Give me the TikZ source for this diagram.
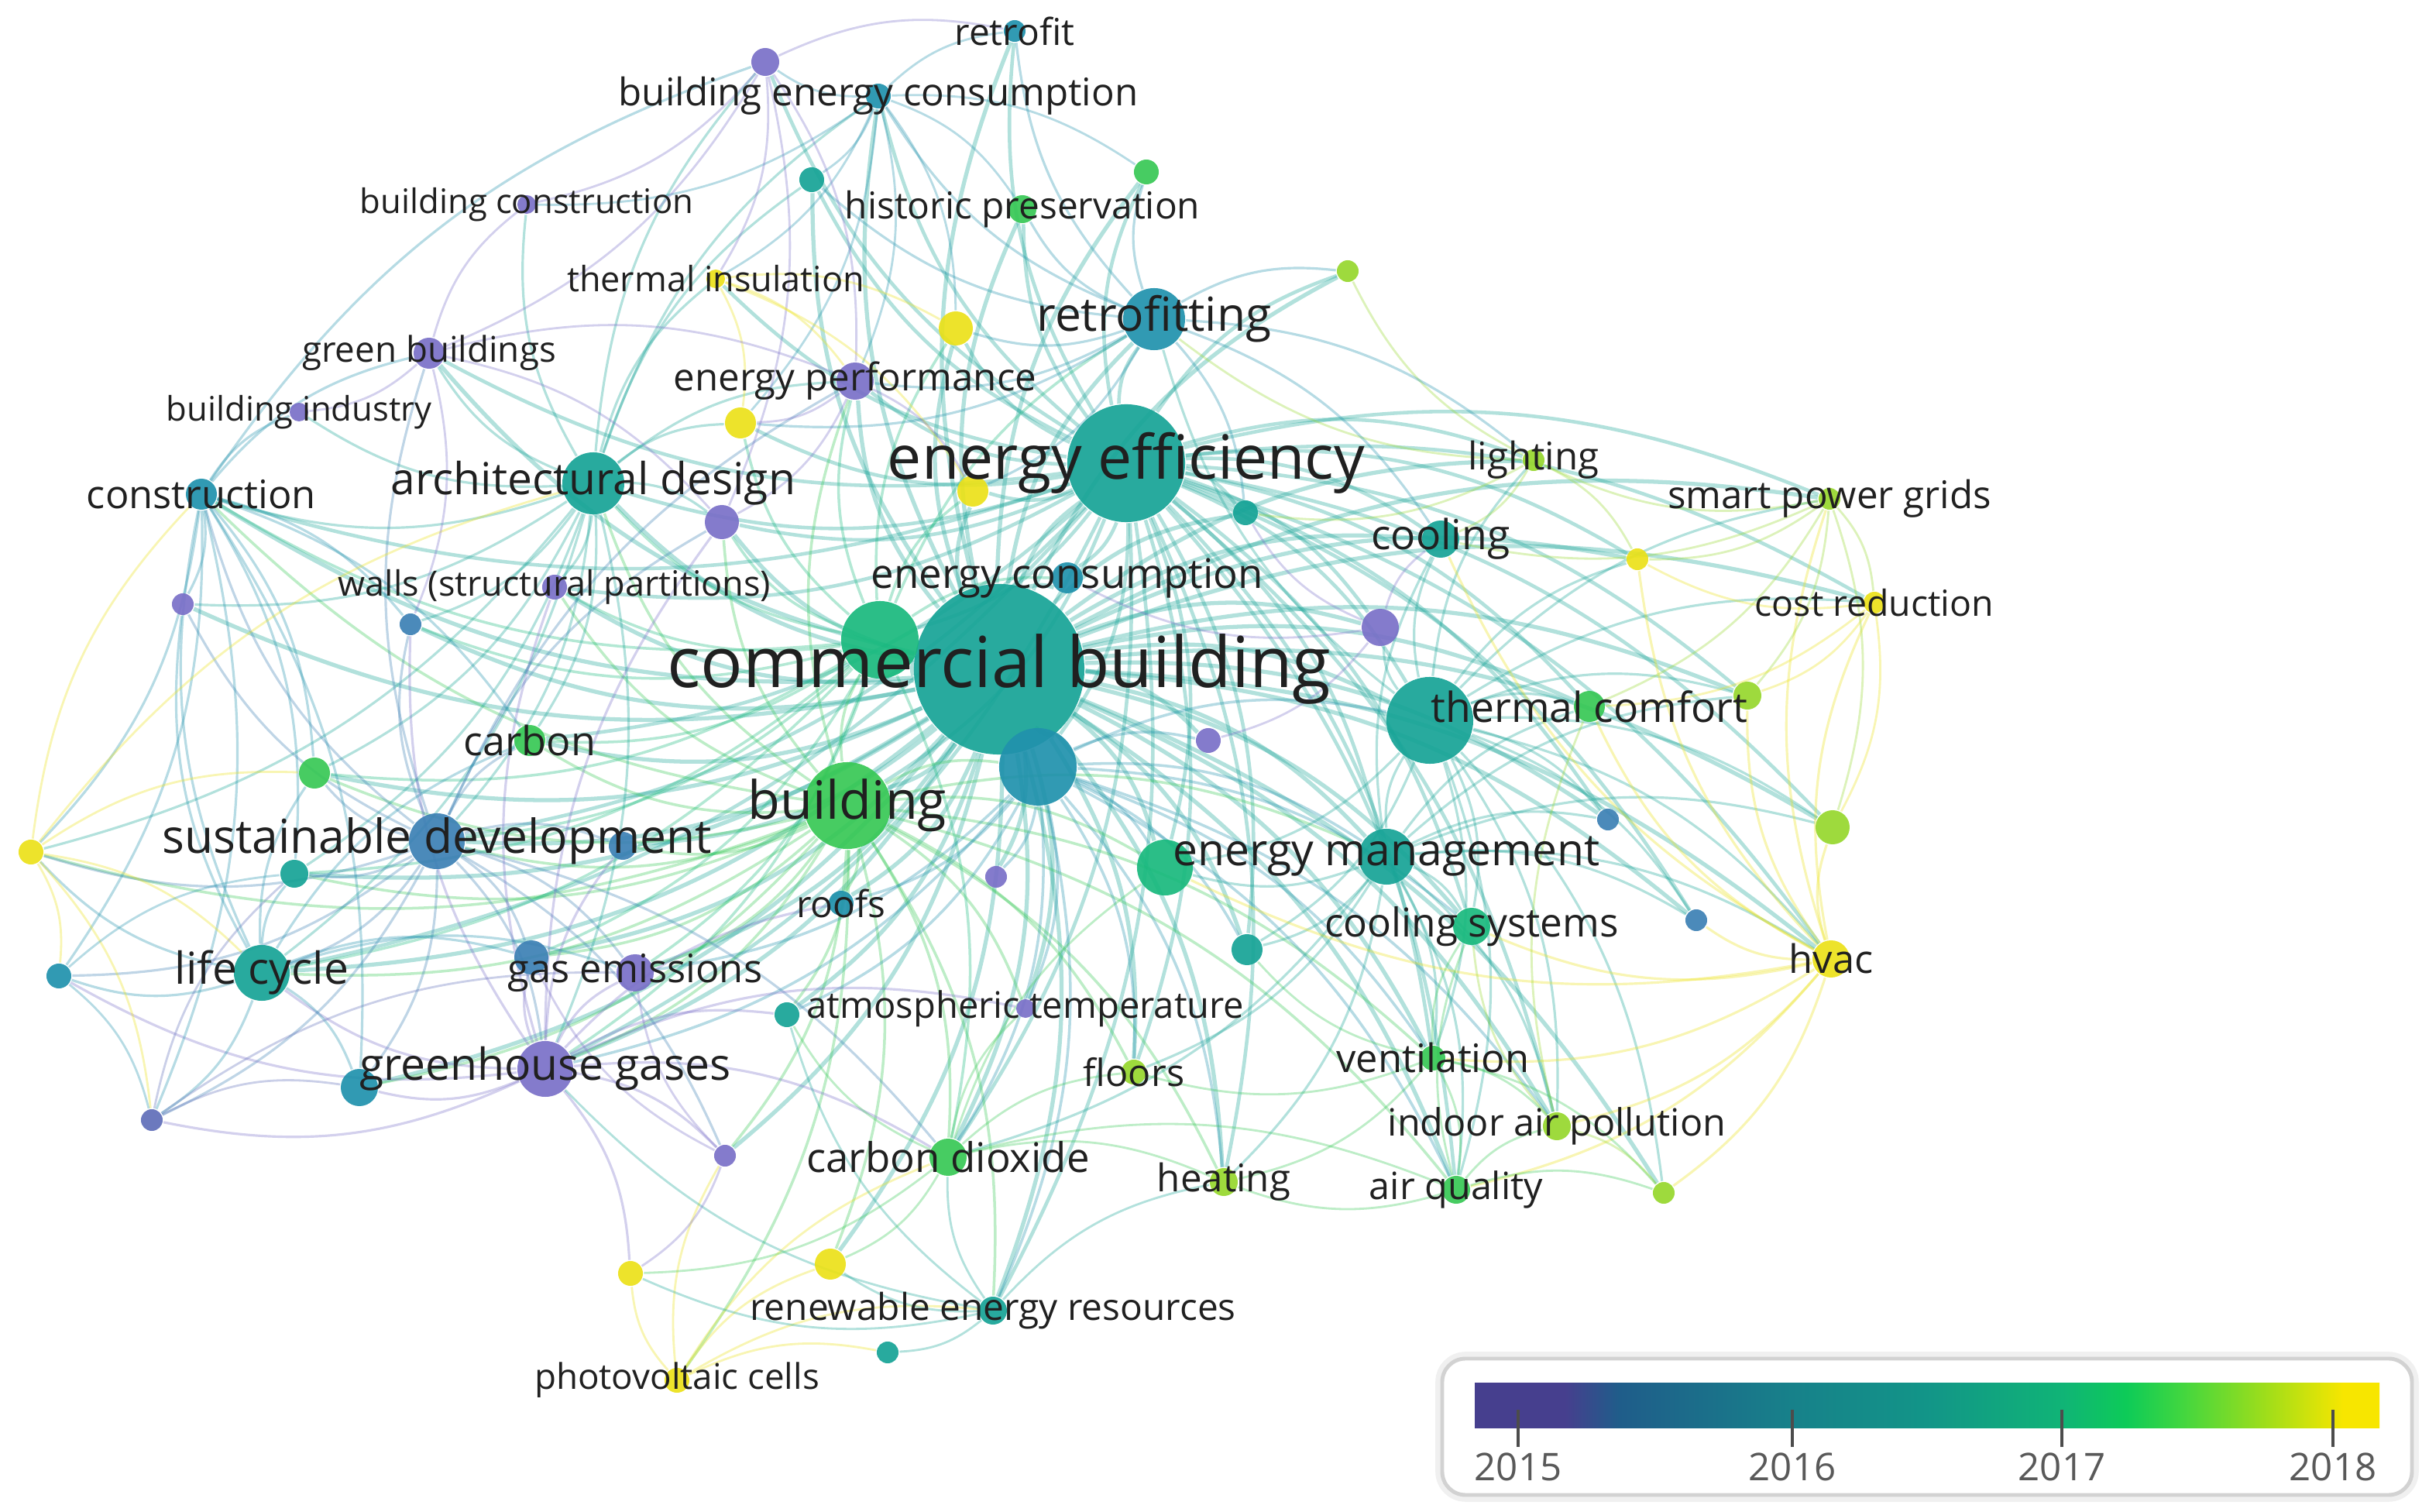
\documentclass[tikz,border=0pt]{standalone}
\usepackage{fontspec}
\setmainfont{Open Sans}
\usetikzlibrary{backgrounds}

\definecolor{vP}{RGB}{122,112,200}
\definecolor{vPB}{RGB}{95,110,185}
\definecolor{vB}{RGB}{60,128,180}
\definecolor{vBT}{RGB}{32,145,172}
\definecolor{vT}{RGB}{22,163,150}
\definecolor{vTG}{RGB}{25,185,125}
\definecolor{vG}{RGB}{55,200,85}
\definecolor{vL}{RGB}{150,215,45}
\definecolor{vY}{RGB}{235,225,25}
\definecolor{txt}{RGB}{32,32,32}
% colour bar stops
\definecolor{c0}{RGB}{70,63,142}
\definecolor{c1}{RGB}{31,93,138}
\definecolor{c2}{RGB}{23,129,138}
\definecolor{c3}{RGB}{18,149,136}
\definecolor{c4}{RGB}{16,180,118}
\definecolor{c5}{RGB}{13,203,88}
\definecolor{c6}{RGB}{64,214,64}
\definecolor{c7}{RGB}{165,222,24}
\definecolor{c8}{RGB}{247,230,0}
\pgfdeclarehorizontalshading{viridis}{100bp}{color(0bp)=(c0); color(25bp)=(c0); color(30bp)=(c0); color(33bp)=(c1); color(42.5bp)=(c2); color(50bp)=(c3); color(57.5bp)=(c4); color(61bp)=(c5); color(64bp)=(c6); color(69bp)=(c7); color(73bp)=(c8); color(100bp)=(c8)}

\begin{document}
\begin{tikzpicture}[x=0.01cm, y=-0.01cm,
  kw/.style 2 args={circle, fill=#2, fill opacity=0.92, minimum size=#1*0.02cm, inner sep=0pt},
  lbl/.style={font=\fontsize{#1}{#1}\selectfont, text=txt, inner sep=0pt},
  edge/.style={draw=#1, opacity=0.33}]
  \useasboundingbox (0,0) rectangle (1568,976);
  %
  % keywords: name/x/y/radius/colour
  \foreach \n/\x/\y/\rad/\c in {
    cb/645/432/55/vT, ee/727/299/38/vT, u38/923/465/28/vT, bd/547/520/28/vG,
    u12/568/413/25/vTG, u15/670/495/25/vBT, rtf/745/206/20/vBT, ad/383/312/20/vT,
    sd/282/543/18/vB, em/895/553/18/vT, u25/752/560/18/vTG, lc/169/628/18/vT,
    gg/352/690/18/vP, ep/552/246/12/vP, co/930/348/12/vT, cs/950/598/12/vTG,
    hv/1182/619/12/vY, ge/410/628/12/vP, cd/612/747/12/vG, u11/891/405/12/vP,
    u30/232/702/12/vBT, u5/617/212/11/vY, u8/466/337/11/vP, u24/1183/534/11/vL,
    u29/343/618/11/vB, gb/277/228/10/vP, con/130/319/10/vBT, ca/342/478/10/vG,
    tc/1026/456/10/vG, ec/689/373/10/vBT, u6/478/273/10/vY, u7/628/317/10/vY,
    u18/203/499/10/vG, u26/805/613/10/vT, u36/536/816/10/vY, u1/494/40/9/vP,
    hp/660/135/9/vG, u17/1128/449/9/vL, u20/190/564/9/vT, u21/402/546/9/vB,
    ht/790/763/9/vL, aq/940/768/9/vG, iap/1005/727/9/vL, rer/641/846/9/vT,
    bec/567/62/8/vBT, u2/524/116/8/vT, u3/740/111/8/vG, u9/804/331/8/vT,
    wsp/358/379/8/vP, u16/780/478/8/vP, rof/543/583/8/vBT, ve/925/683/8/vG,
    fl/732/692/8/vL, u19/20/550/8/vY, u28/38/630/8/vBT, u31/508/655/8/vT,
    u35/407/822/8/vY, pv/437/891/8/vY, rf/655/20/7/vBT, u4/870/175/7/vL,
    lt/990/297/7/vL, spg/1181/322/7/vL, u10/1057/361/7/vY, cr/1210/389/7/vY,
    u13/118/390/7/vP, u14/265/403/7/vB, u22/643/566/7/vP, u23/1038/529/7/vB,
    u27/1095/594/7/vB, u32/98/723/7/vPB, u33/468/746/7/vP, u34/1074/770/7/vL,
    u37/573/873/7/vT, bc/340/132/6/vP, ti/462/180/6/vY, bi/193/266/6/vP,
    at/662/651/6/vP}
    \node[kw={\rad}{\c}] (\n) at (\x,\y) {};
  %
  % links
  \begin{scope}[on background layer]
    \foreach \a/\c/\w/\lst in {
      cb/vT/0.75/{ee,bd,u12,u15,ad,rtf,em,u38,tc,co,sd,gg,lc,con,ca,ge,rof,cs,hv,ve,fl,cd,ht,aq,iap,rer,at,ep,hp,bec,ec,u5,u7,u8,u11,u16,u25,u26,spg,lt,cr,u17,u24,u9,wsp,u21,u31,u29,u2,rf,u18,u20,u30,u22,u23,u27,u36,u14,u13,gb,u3,u4,u10,u34,u33},
      ee/vT/0.65/{rtf,hp,bec,rf,u3,u4,lt,spg,co,u38,tc,em,cs,bd,u12,u15,ad,ep,u5,u6,u7,ec,u9,u10,u11,cr,sd,hv,ve,aq,gb,con,ca,u2,u17,u24,u25,u26,ht,fl,lc,gg,ti,u1,u8,wsp,iap,u23,u27,cd,rer},
      bd/vG/0.5/{ad,sd,gg,lc,ca,ge,rof,cd,rer,fl,u25,em,u12,u15,u29,u21,u36,pv,u18,u20,con,ep,u31,u33,ht,at,u30,u19,wsp,u8,ve,aq},
      u12/vTG/0.5/{ad,ep,ca,sd,ge,cd,gg,ec,u8,wsp,u6,lc,con,u14,u18,u20,u29,u5,u7,rtf},
      u15/vBT/0.5/{em,u25,ht,cd,rer,at,rof,fl,u26,u38,cs,ve,aq,u16,u22,gg,ge,u31,iap},
      ad/vT/0.45/{con,gb,bi,bc,ep,u6,u8,wsp,ca,sd,u14,u13,ti,lc,u1,u2,bec,u18,gg,u20,u19},
      sd/vB/0.45/{lc,gg,con,ge,u29,u20,u30,u18,u14,u28,u19,u32,u21,ca,gb,u13,u8,ep,u33,cd},
      gg/vP/0.45/{lc,ge,u29,u30,u32,u33,cd,u28,u35,u21,wsp,u31,rof,at,u8,u14},
      lc/vBT/0.45/{u28,u30,u32,u19,u20,con,u13,u18,ge,u29,ca},
      con/vBT/0.45/{gb,bi,u13,u19,u14,u28,u32,u1,u20,u18,u30,ca},
      em/vT/0.45/{u38,cs,co,tc,u26,ve,aq,ht,hv,u27,u23,iap,u25,u24,fl,u17,cd},
      u38/vT/0.45/{co,tc,cs,u17,u24,hv,ve,aq,iap,u23,cr,lt,spg,u10,u11,u27,rtf,u25,u26,u34},
      hv/vY/0.45/{u24,u17,iap,aq,cr,spg,ve,u34,u27,u10,tc,cs,co,u25},
      spg/vL/0.4/{cr,lt,u10,u17,u24,co,tc},
      cr/vY/0.4/{u17,u24,u10,tc},
      lt/vL/0.4/{u10,u4,co,rtf,u9},
      rtf/vBT/0.45/{hp,rf,bec,u3,u4,u5,u9,lt,co,u2,ep,u7,u6},
      bec/vBT/0.4/{rf,u1,u2,hp,ti,bc,u5,ep,u6,u3},
      u1/vP/0.4/{rf,bc,ti,ep,u8,gb},
      pv/vY/0.4/{u35,u36,rer,u37,cd,u33},
      rer/vT/0.4/{u37,cd,u36,ht,u35,u31,gg},
      cd/vG/0.4/{u36,ht,fl,aq,at,u31,u35,u25},
      ve/vG/0.4/{aq,iap,u34,fl,ht,cs,u26},
      aq/vG/0.4/{iap,u34,ht,cs},
      iap/vL/0.4/{u34,tc,cs},
      u19/vY/0.4/{u28,u18,u32,con,ad,lc},
      u28/vBT/0.4/{u32,u20},
      u32/vPB/0.4/{u30,u20,ge},
      u33/vP/0.4/{ge,u35,u29},
      ti/vY/0.4/{u6,u5,ep,u7},
      u11/vP/0.4/{co,ec,u16,u9},
      gb/vP/0.4/{bi,bc,u8,ep,u14},
      ep/vP/0.4/{u8,u6,u7}}{
      \foreach \b in \lst
        \draw[edge=\c, line width=\w pt] (\a) to[bend left=18] (\b);
    }
  \end{scope}
  %
  % labels: name/size/text
  \foreach \n/\s/\t in {
    cb/12.9/commercial building, ee/11.2/energy efficiency, bd/9.7/building,
    rtf/8.6/retrofitting, sd/8.6/sustainable development, ad/8.1/architectural design,
    em/8.1/energy management, gg/8.1/greenhouse gases, lc/8.1/life cycle,
    ec/7.5/energy consumption, co/7.6/cooling, cd/7.5/carbon dioxide,
    tc/7.6/thermal comfort, ca/7.4/carbon, cs/7.3/cooling systems,
    hv/7.2/hvac, ve/7.2/ventilation, ge/7.2/gas emissions, con/7.2/construction,
    bec/7/building energy consumption, rf/6.8/retrofit, hp/6.8/historic preservation,
    wsp/6.4/walls (structural partitions), at/6.7/atmospheric temperature,
    pv/6.5/photovoltaic cells, rer/6.8/renewable energy resources,
    ti/6.4/thermal insulation, bc/6.2/building construction, bi/6.2/building industry,
    gb/6.5/green buildings, ep/7/energy performance, lt/7/lighting,
    spg/7/smart power grids, cr/6.6/cost reduction, fl/6.9/floors, ht/7/heating,
    aq/6.9/air quality, iap/6.9/indoor air pollution, rof/6.8/roofs}
    \node[lbl=\s] (\n-l) at (\n) {\t};
  %
  % overlay colour bar
  \draw[gray!12, line width=2.5pt, rounded corners=0.15cm] (931,877) rectangle (1557,965);
  \draw[gray!35, line width=0.7pt, rounded corners=0.15cm, fill=white] (931,877) rectangle (1557,965);
  \shade[shading=viridis] (952,893) rectangle (1536,922);
  \foreach \yr/\xx in {2015/980, 2016/1157, 2017/1331, 2018/1506} {
    \draw[gray!60!black, line width=0.5pt] (\xx,910) -- (\xx,934);
    \node[font=\fontsize{7}{7}\selectfont, text=gray!70!black, inner sep=0pt] (y\yr) at (\xx,947) {\yr};
  }
\end{tikzpicture}
\end{document}
